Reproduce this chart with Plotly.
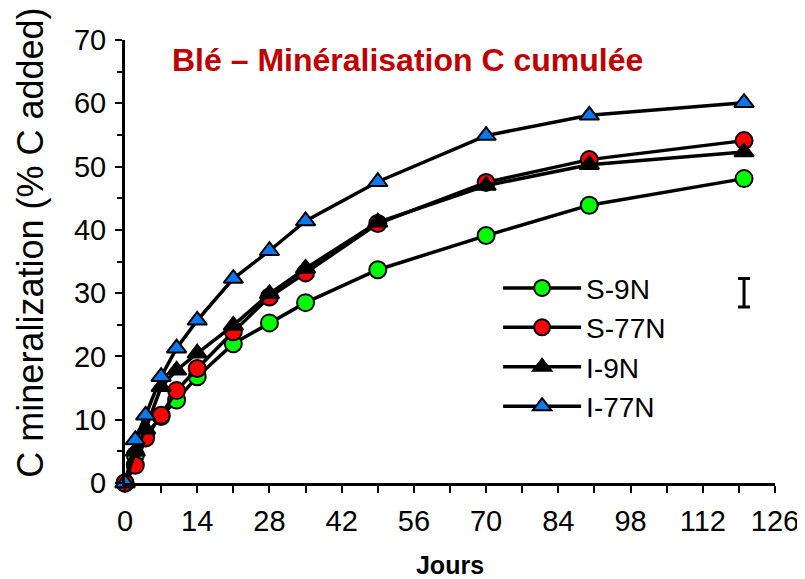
import plotly.graph_objects as go

days = [0, 2, 4, 7, 10, 14, 21, 28, 35, 49, 70, 90, 120]
s_9n = [0, 4.4, 7.6, 10.5, 13.1, 16.8, 22.0, 25.3, 28.5, 33.7, 39.1, 43.9, 48.1]
s_77n = [0, 2.8, 7.1, 10.7, 14.6, 18.1, 23.9, 29.4, 33.2, 41.0, 47.5, 51.1, 54.1]
i_9n = [0, 5.0, 8.5, 15.2, 17.8, 20.5, 24.9, 29.9, 33.9, 41.2, 47.0, 50.3, 52.3]
i_77n = [0, 6.8, 10.7, 16.8, 21.3, 25.7, 32.3, 36.7, 41.4, 47.6, 54.9, 58.1, 60.1]

series_names = ["S-9N", "S-77N", "I-9N", "I-77N"]
series_values = [s_9n, s_77n, i_9n, i_77n]
series_colors = ["#00FF00", "#FF0000", "#000000", "#0A78F0"]
series_symbols = ["circle", "circle", "triangle-up", "triangle-up"]

err_day = [120]
err_center = [30.05]
err_half = [2.25]

fig = go.Figure()
for name, vals, col, sym in zip(series_names, series_values, series_colors, series_symbols):
    fig.add_trace(go.Scatter(
        x=days, y=vals, name=name, mode="lines+markers",
        line=dict(color="black", width=3.5),
        marker=dict(symbol=sym, size=17, color=col, line=dict(color="black", width=2)),
        cliponaxis=False,
    ))

fig.add_trace(go.Scatter(
    x=err_day, y=err_center, mode="markers", showlegend=False,
    marker=dict(size=1, color="rgba(0,0,0,0)"),
    error_y=dict(type="data", array=err_half, color="black", thickness=3, width=6),
    cliponaxis=False,
))

font_family = "Liberation Sans, Arial, sans-serif"

# page body has an 8px margin, so the figure is sized to fill the remaining window
fig.update_layout(
    width=797, height=571,
    margin=dict(l=117, r=30, t=32, b=96),
    paper_bgcolor="white", plot_bgcolor="white",
    font=dict(family=font_family, color="black"),
    showlegend=True,
    legend=dict(
        x=0.574, y=0.496, xanchor="left", yanchor="top",
        font=dict(size=28, family=font_family),
        bgcolor="rgba(0,0,0,0)", itemwidth=78, tracegroupgap=0,
    ),
    annotations=[
        dict(
            text="<b>Blé – Minéralisation C cumulée</b>",
            xref="paper", yref="paper", x=0.434, y=0.955, xanchor="center", yanchor="middle",
            showarrow=False, font=dict(size=32, color="#C00000", family=font_family),
        ),
        dict(
            text="C mineralization (% C added)",
            xref="paper", yref="paper", x=-0.145, y=0.542, xanchor="center", yanchor="middle",
            textangle=-90, showarrow=False, font=dict(size=36, color="black", family=font_family),
        ),
    ],
)

fig.update_xaxes(
    range=[0, 126], tickmode="linear", tick0=0, dtick=14,
    showline=True, linecolor="black", linewidth=3, mirror=False,
    ticks="outside", ticklen=7, tickwidth=2, tickcolor="black",
    minor=dict(ticks="outside", dtick=7, ticklen=7, tickwidth=2, tickcolor="black"),
    showgrid=False, zeroline=False, automargin=False,
    tickfont=dict(size=29, family=font_family),
    ticklabelstandoff=3,
    title=dict(text="<b>Jours</b>", font=dict(size=25, family=font_family), standoff=22),
)
fig.update_yaxes(
    range=[0, 70], tickmode="linear", tick0=0, dtick=10,
    showline=True, linecolor="black", linewidth=3, mirror=False,
    ticks="outside", ticklen=7, tickwidth=2, tickcolor="black",
    minor=dict(ticks="outside", dtick=5, ticklen=5, tickwidth=2, tickcolor="black"),
    showgrid=False, zeroline=False, automargin=False,
    tickfont=dict(size=29, family=font_family),
    ticklabelstandoff=3,
)

fig.write_html("out.html")
